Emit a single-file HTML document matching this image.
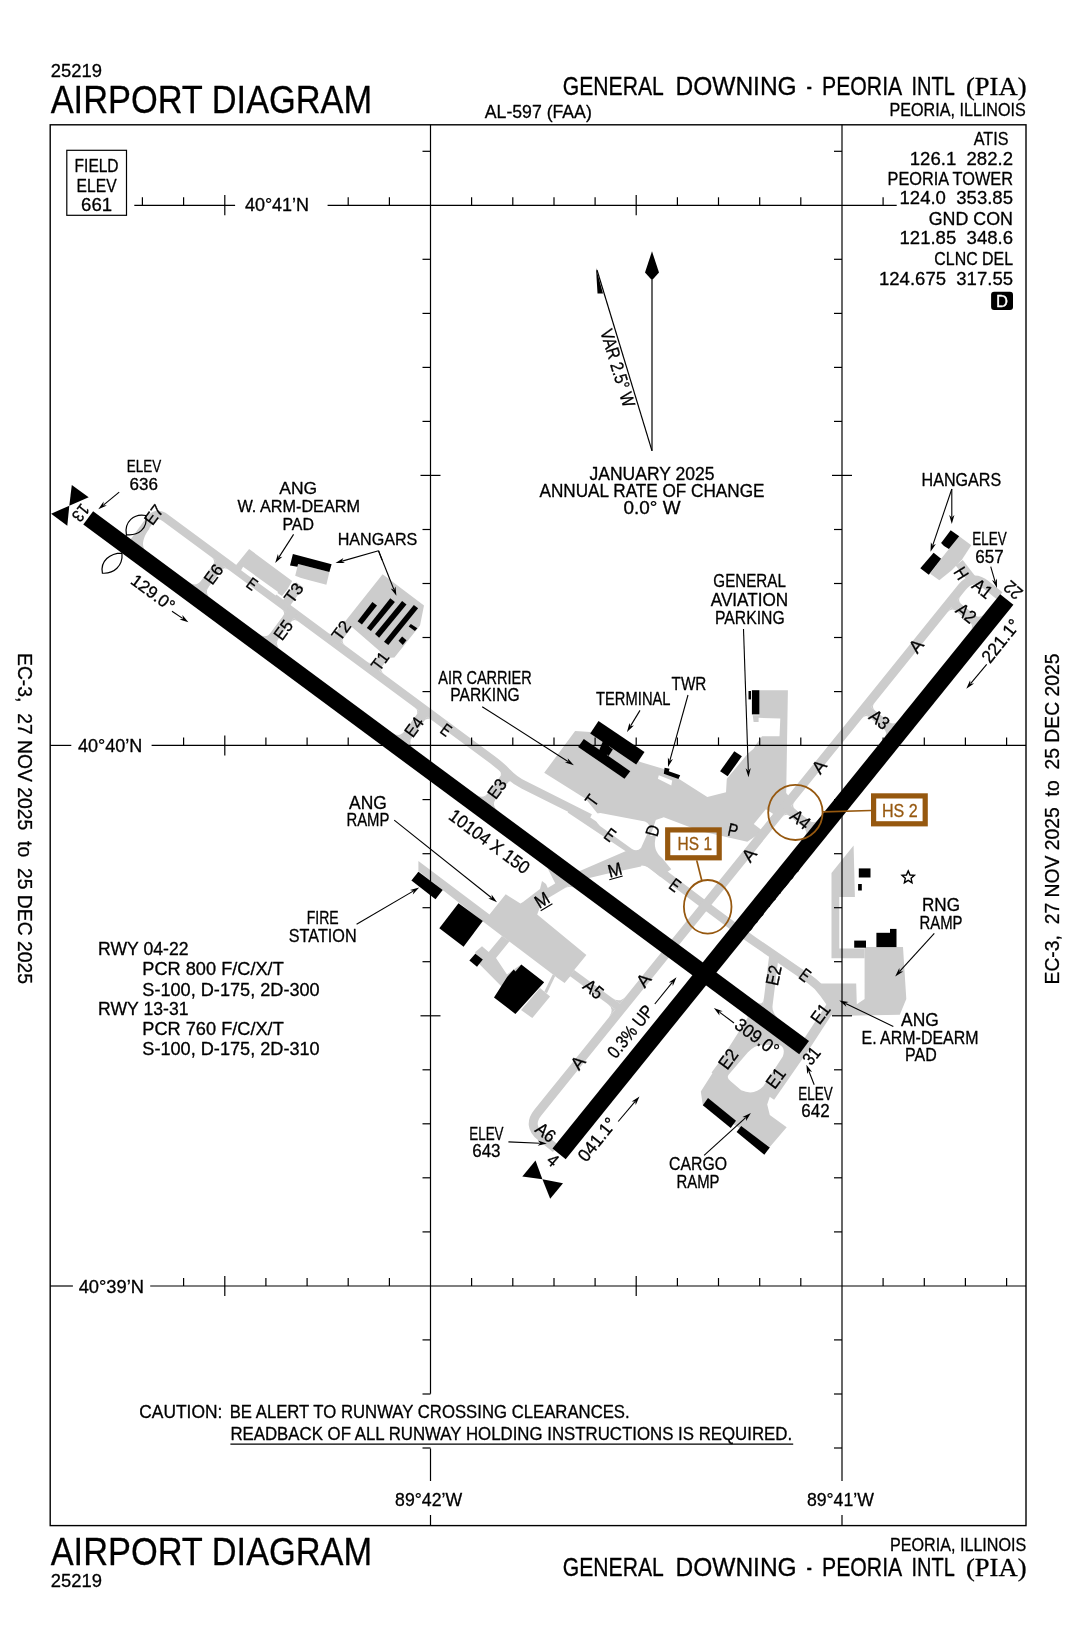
<!DOCTYPE html>
<html><head><meta charset="utf-8"><style>
html,body{margin:0;padding:0;background:#fff;width:1076px;height:1650px;overflow:hidden}
svg{display:block;will-change:transform}
text{font-family:"Liberation Sans",sans-serif;stroke-width:0.3px;stroke-linejoin:round}
</style></head><body>
<svg width="1076" height="1650" viewBox="0 0 1076 1650">
<rect width="1076" height="1650" fill="#fff"/>
<path d="M133.2,541.2 L144.4,549.5 Q140.0,541.2 149.5,528.4 L145.0,525.1Z" fill="#cccccc"/>
<path d="M132.8,543.4 L150.0,520.1 Q156.6,511.2 165.4,517.8 L492.6,759.9 Q501.4,766.4 507.7,773.2 L507.7,773.2 Q514.0,780.0 523.8,784.9 L590.0,818.0" fill="none" stroke="#cccccc" stroke-width="8.5" stroke-linejoin="round"/>
<polyline points="222.5,560.0 195.1,597.0" fill="none" stroke="#cccccc" stroke-width="9.5" stroke-linejoin="round" stroke-linecap="butt"/>
<path d="M209.2,585.9 Q203.8,593.2 211.1,598.5 L203.8,593.2 Z" fill="#cccccc"/>
<path d="M201.6,580.3 Q196.2,587.5 189.0,582.2 L196.2,587.5 Z" fill="#cccccc"/>
<polyline points="195.1,597.0 222.5,560.0" fill="none" stroke="#cccccc" stroke-width="9.5" stroke-linejoin="round" stroke-linecap="butt"/>
<path d="M212.6,565.4 Q216.1,560.6 211.3,557.0 L216.1,560.6 Z" fill="#cccccc"/>
<path d="M220.2,571.1 Q223.8,566.2 228.6,569.8 L223.8,566.2 Z" fill="#cccccc"/>
<polyline points="292.4,611.7 265.0,648.7" fill="none" stroke="#cccccc" stroke-width="9.5" stroke-linejoin="round" stroke-linecap="butt"/>
<path d="M279.1,637.7 Q273.8,644.9 281.0,650.3 L273.8,644.9 Z" fill="#cccccc"/>
<path d="M271.5,632.0 Q266.1,639.3 258.9,633.9 L266.1,639.3 Z" fill="#cccccc"/>
<polyline points="265.0,648.7 292.4,611.7" fill="none" stroke="#cccccc" stroke-width="9.5" stroke-linejoin="round" stroke-linecap="butt"/>
<path d="M282.5,617.2 Q286.1,612.3 281.2,608.8 L286.1,612.3 Z" fill="#cccccc"/>
<path d="M290.1,622.8 Q293.7,618.0 298.5,621.6 L293.7,618.0 Z" fill="#cccccc"/>
<polyline points="425.8,710.5 398.5,747.5" fill="none" stroke="#cccccc" stroke-width="9.5" stroke-linejoin="round" stroke-linecap="butt"/>
<path d="M412.6,736.4 Q407.2,743.7 414.4,749.0 L407.2,743.7 Z" fill="#cccccc"/>
<path d="M404.9,730.8 Q399.6,738.0 392.3,732.7 L399.6,738.0 Z" fill="#cccccc"/>
<polyline points="398.5,747.5 425.8,710.5" fill="none" stroke="#cccccc" stroke-width="9.5" stroke-linejoin="round" stroke-linecap="butt"/>
<path d="M415.9,715.9 Q419.5,711.1 414.7,707.5 L419.5,711.1 Z" fill="#cccccc"/>
<path d="M423.6,721.6 Q427.1,716.7 432.0,720.3 L427.1,716.7 Z" fill="#cccccc"/>
<polyline points="509.4,772.4 482.1,809.3" fill="none" stroke="#cccccc" stroke-width="9.5" stroke-linejoin="round" stroke-linecap="butt"/>
<path d="M496.2,798.3 Q490.8,805.5 498.0,810.9 L490.8,805.5 Z" fill="#cccccc"/>
<path d="M488.5,792.6 Q483.2,799.9 475.9,794.5 L483.2,799.9 Z" fill="#cccccc"/>
<polyline points="482.1,809.3 509.4,772.4" fill="none" stroke="#cccccc" stroke-width="9.5" stroke-linejoin="round" stroke-linecap="butt"/>
<path d="M499.5,777.8 Q503.1,772.9 498.3,769.4 L503.1,772.9 Z" fill="#cccccc"/>
<path d="M507.2,783.4 Q510.7,778.6 515.6,782.2 L510.7,778.6 Z" fill="#cccccc"/>
<polygon points="235.7,565.4 249.1,549.0 292.2,581.0 287.0,590.0 282.0,596.0 270.0,588.0" fill="#cccccc"/>
<polygon points="243.1,566.8 278.1,592.1 275.6,595.6 241.1,570.3" fill="#fff"/>
<polyline points="284.4,605.8 299.8,584.9" fill="none" stroke="#cccccc" stroke-width="9" stroke-linejoin="round" stroke-linecap="butt"/>
<polygon points="298.1,563.9 329.4,572.0 326.4,584.7 309.3,580.2 301.1,578.0 295.2,575.8" fill="#cccccc"/>
<polygon points="382.6,574.3 424.0,605.5 420.0,625.4 394.4,657.6 386.0,658.0 379.0,650.5 352.5,627.5 344.3,622.4" fill="#cccccc"/>
<polyline points="348.5,623.4 334.2,642.7" fill="none" stroke="#cccccc" stroke-width="9.5" stroke-linejoin="round" stroke-linecap="butt"/>
<path d="M344.1,637.3 Q340.6,642.1 345.4,645.7 L340.6,642.1 Z" fill="#cccccc"/>
<path d="M336.5,631.6 Q332.9,636.4 328.1,632.9 L332.9,636.4 Z" fill="#cccccc"/>
<polyline points="385.9,653.5 372.8,671.2" fill="none" stroke="#cccccc" stroke-width="9.5" stroke-linejoin="round" stroke-linecap="butt"/>
<path d="M382.7,665.8 Q379.1,670.6 384.0,674.2 L379.1,670.6 Z" fill="#cccccc"/>
<path d="M375.1,660.2 Q371.5,665.0 366.7,661.4 L371.5,665.0 Z" fill="#cccccc"/>
<polygon points="544.2,772.8 575.1,731.0 590.2,731.9 640.4,762.0 663.0,768.7 707.3,797.1 720.0,793.7 726.0,792.2 726.8,778.8 747.7,753.8 753.6,748.7 756.1,744.6 762.0,736.2 779.5,736.2 780.3,718.6 758.6,717.8 758.6,722.0 753.6,722.0 752.7,715.3 759.4,715.3 759.4,690.2 787.9,690.2 786.2,793.1 792.0,800.0 775.0,823.0 747.3,841.8 700.0,831.0 663.8,817.2 647.0,823.0 597.7,813.8 585.6,798.7" fill="#cccccc"/>
<polygon points="753.8,824.1 761.2,829.7 773.3,813.9 765.9,809.3" fill="#fff"/>
<polygon points="658.8,775.3 672.2,780.4 671.3,785.4 657.9,778.7" fill="#fff"/>
<path d="M570.0,809.0 L627.7,847.5 Q636.0,853.0 644.0,859.0 L699.3,900.8 Q707.3,906.8 715.3,912.8 L737.0,929.0 Q745.0,935.0 753.2,940.7 L809.8,979.6 Q818.0,985.3 823.8,993.5 L832.0,1005.0" fill="none" stroke="#cccccc" stroke-width="8.5" stroke-linejoin="round"/>
<polyline points="636.0,856.0 648.0,830.0 652.0,818.0" fill="none" stroke="#cccccc" stroke-width="8.5" stroke-linejoin="round" stroke-linecap="butt"/>
<polygon points="626.0,851.0 646.0,856.0 641.0,866.4 606.0,874.0 581.0,880.0 578.0,871.8" fill="#cccccc"/>
<path d="M630.4,849.1 Q640,852 642,846 L649,835.8 L656,836 Q652,850 662,858 L671.3,869.2 L660.1,876.7 L650,868 Q642,864 636,866 L621,866 Z" fill="#cccccc"/>
<polyline points="581.0,874.0 560.0,884.0 546.4,856.9" fill="none" stroke="#cccccc" stroke-width="8" stroke-linejoin="round" stroke-linecap="butt"/>
<path d="M595.2,815.5 Q598,812 603,813.5 L645,821.5 Q651,824 649,830 L641,848 Q637,852 632,849 L600,826 Q594,820 595.2,815.5Z" fill="#fff"/>
<polygon points="418.4,860.9 489.5,914.4 505.7,894.3 520.4,903.5 523.0,902.0 540.0,889.0 542.0,881.0 546.0,884.0 550.0,893.0 540.0,907.0 537.2,914.4 586.4,955.1 574.6,969.6 570.7,975.8 564.6,983.0 557.4,978.0 554.0,975.2 520.0,949.6 502.0,936.1 483.6,921.9 418.4,871.0" fill="#cccccc"/>
<polyline points="528.0,905.0 574.0,877.4" fill="none" stroke="#cccccc" stroke-width="9" stroke-linejoin="round" stroke-linecap="butt"/>
<path d="M556.4,882.7 Q562.5,879.1 556.8,874.9 L562.5,879.1 Z" fill="#cccccc"/>
<path d="M564.3,888.5 Q570.3,884.9 575.9,889.0 L570.3,884.9 Z" fill="#cccccc"/>
<polygon points="475.3,952.0 482.0,946.2 488.7,952.0 502.0,936.1 509.6,941.2 496.0,958.0 507.0,974.6 513.7,969.6 521.3,964.6 521.0,972.0 505.0,990.0 475.3,960.0" fill="#cccccc"/>
<polygon points="540.0,988.0 550.1,996.4 532.3,1018.1 521.0,1010.0" fill="#cccccc"/>
<polyline points="545.6,992.5 554.0,975.2" fill="none" stroke="#cccccc" stroke-width="3" stroke-linejoin="round" stroke-linecap="butt"/>
<polyline points="572.0,973.0 621.2,1009.3" fill="none" stroke="#cccccc" stroke-width="7.5" stroke-linejoin="round" stroke-linecap="butt"/>
<path d="M611.9,997.8 Q619.9,1003.7 626.2,995.9 L619.9,1003.7 Z" fill="#cccccc"/>
<path d="M607.2,1003.6 Q615.2,1009.6 608.9,1017.3 L615.2,1009.6 Z" fill="#cccccc"/>
<path d="M555.7,1148.5 L540.5,1136.3 Q527.3,1125.6 538.0,1112.4 L553.1,1093.7 Q563.7,1080.5 574.4,1067.2 L854.6,720.3 Q865.3,707.0 876.0,693.8 L923.7,634.7 Q934.4,621.5 945.1,608.2 L962.1,587.2 Q972.8,574.0 986.0,584.7 L999.6,595.7" fill="none" stroke="#cccccc" stroke-width="9" stroke-linejoin="round"/>
<polyline points="784.9,806.6 818.0,833.3" fill="none" stroke="#cccccc" stroke-width="8.5" stroke-linejoin="round" stroke-linecap="butt"/>
<path d="M808.6,820.3 Q814.0,824.7 818.4,819.2 L814.0,824.7 Z" fill="#cccccc"/>
<path d="M803.2,826.9 Q808.7,831.3 804.3,836.7 L808.7,831.3 Z" fill="#cccccc"/>
<polyline points="818.0,833.3 784.9,806.6" fill="none" stroke="#cccccc" stroke-width="8.5" stroke-linejoin="round" stroke-linecap="butt"/>
<path d="M790.4,816.5 Q785.7,812.8 782.0,817.4 L785.7,812.8 Z" fill="#cccccc"/>
<path d="M795.7,809.9 Q791.1,806.1 794.8,801.5 L791.1,806.1 Z" fill="#cccccc"/>
<polyline points="864.7,707.8 897.7,734.5" fill="none" stroke="#cccccc" stroke-width="8.5" stroke-linejoin="round" stroke-linecap="butt"/>
<path d="M888.4,721.5 Q893.8,725.9 898.2,720.4 L893.8,725.9 Z" fill="#cccccc"/>
<path d="M883.0,728.1 Q888.5,732.5 884.1,737.9 L888.5,732.5 Z" fill="#cccccc"/>
<polyline points="897.7,734.5 864.7,707.8" fill="none" stroke="#cccccc" stroke-width="8.5" stroke-linejoin="round" stroke-linecap="butt"/>
<path d="M870.2,717.7 Q865.5,714.0 861.7,718.6 L865.5,714.0 Z" fill="#cccccc"/>
<path d="M875.5,711.1 Q870.9,707.3 874.6,702.7 L870.9,707.3 Z" fill="#cccccc"/>
<polyline points="950.8,601.2 983.8,627.9" fill="none" stroke="#cccccc" stroke-width="8.5" stroke-linejoin="round" stroke-linecap="butt"/>
<path d="M974.4,614.9 Q979.9,619.3 984.3,613.8 L979.9,619.3 Z" fill="#cccccc"/>
<path d="M969.1,621.5 Q974.5,625.9 970.1,631.3 L974.5,625.9 Z" fill="#cccccc"/>
<polyline points="983.8,627.9 950.8,601.2" fill="none" stroke="#cccccc" stroke-width="8.5" stroke-linejoin="round" stroke-linecap="butt"/>
<path d="M956.3,611.1 Q951.6,607.4 947.8,612.0 L951.6,607.4 Z" fill="#cccccc"/>
<path d="M961.6,604.5 Q956.9,600.8 960.7,596.1 L956.9,600.8 Z" fill="#cccccc"/>
<polyline points="972.5,580.0 959.2,562.8" fill="none" stroke="#cccccc" stroke-width="9" stroke-linejoin="round" stroke-linecap="butt"/>
<polygon points="959.2,536.2 971.3,545.3 962.2,559.2 952.0,570.0 939.3,580.3 930.2,573.7 941.1,558.8" fill="#cccccc"/>
<polyline points="774.0,955.0 766.1,1019.5" fill="none" stroke="#cccccc" stroke-width="9.5" stroke-linejoin="round" stroke-linecap="butt"/>
<path d="M772.7,1004.4 Q771.7,1013.4 778.9,1018.7 L771.7,1013.4 Z" fill="#cccccc"/>
<path d="M764.0,997.9 Q762.9,1006.9 755.6,1001.5 L762.9,1006.9 Z" fill="#cccccc"/>
<polyline points="832.0,1005.0 804.0,1048.0 770.0,1097.0" fill="none" stroke="#cccccc" stroke-width="10" stroke-linejoin="round" stroke-linecap="butt"/>
<polyline points="715.6,1075.4 760.2,1015.2" fill="none" stroke="#cccccc" stroke-width="10" stroke-linejoin="round" stroke-linecap="butt"/>
<path d="M746.5,1025.2 Q751.3,1018.8 744.8,1014.1 L751.3,1018.8 Z" fill="#cccccc"/>
<path d="M754.5,1031.2 Q759.3,1024.8 765.7,1029.5 L759.3,1024.8 Z" fill="#cccccc"/>
<polygon points="700.8,1091.6 748.5,1016.5 808.9,1041.5 769.8,1096.8 767.2,1104.6 769.8,1115.0 786.7,1127.3 769.8,1146.9 702.8,1105.2" fill="#cccccc"/>
<path d="M728.8,1074.6 L747.7,1052.5 Q754.2,1045.4 762,1045 L778.9,1044.7 Q786,1047 782.8,1056.4 L763.3,1086.3 Q754.2,1096 741.2,1090.3 L730.7,1081.2 Q726,1078 728.8,1074.6Z" fill="#fff"/>
<polygon points="831.5,872.9 853.6,845.6 854.9,897.0 839.3,897.0 839.3,948.4 864.6,948.4 864.6,958.2 831.5,958.2" fill="#cccccc"/>
<polygon points="864.6,947.1 903.0,947.1 906.3,999.1 899.8,1014.8 832.1,1016.0 817.8,983.5 856.2,983.5 856.8,1004.3 864.6,999.1" fill="#cccccc"/>
<text x="50.7" y="76.7" font-size="18.5" text-anchor="start" textLength="51.2" lengthAdjust="spacingAndGlyphs" fill="#000" stroke="#000">25219</text>
<text x="50.7" y="112.5" font-size="38.7" text-anchor="start" textLength="321.5" lengthAdjust="spacingAndGlyphs" fill="#000" stroke="#000">AIRPORT DIAGRAM</text>
<text x="562.8" y="95.2" font-size="25.2" text-anchor="start" textLength="101.0" lengthAdjust="spacingAndGlyphs" fill="#000" stroke="#000">GENERAL</text>
<text x="675.5" y="95.2" font-size="25.2" text-anchor="start" textLength="121.2" lengthAdjust="spacingAndGlyphs" fill="#000" stroke="#000">DOWNING</text>
<text x="806.5" y="95.2" font-size="25.2" text-anchor="start" textLength="5.5" lengthAdjust="spacingAndGlyphs" fill="#000" stroke="#000">-</text>
<text x="822.0" y="95.2" font-size="25.2" text-anchor="start" textLength="80.2" lengthAdjust="spacingAndGlyphs" fill="#000" stroke="#000">PEORIA</text>
<text x="911.5" y="95.2" font-size="25.2" text-anchor="start" textLength="43.3" lengthAdjust="spacingAndGlyphs" fill="#000" stroke="#000">INTL</text>
<text x="966.0" y="95.2" font-size="25.5" text-anchor="start" style="font-family:&quot;Liberation Serif&quot;,serif" textLength="60.5" lengthAdjust="spacingAndGlyphs" fill="#000" stroke="#000">(PIA)</text>
<text x="484.8" y="118.0" font-size="17.8" text-anchor="start" textLength="107.0" lengthAdjust="spacingAndGlyphs" fill="#000" stroke="#000">AL-597 (FAA)</text>
<text x="1025.8" y="115.6" font-size="17.8" text-anchor="end" textLength="136.3" lengthAdjust="spacingAndGlyphs" fill="#000" stroke="#000">PEORIA, ILLINOIS</text>
<text x="50.7" y="1564.5" font-size="38.7" text-anchor="start" textLength="321.5" lengthAdjust="spacingAndGlyphs" fill="#000" stroke="#000">AIRPORT DIAGRAM</text>
<text x="50.7" y="1587.2" font-size="18.5" text-anchor="start" textLength="51.2" lengthAdjust="spacingAndGlyphs" fill="#000" stroke="#000">25219</text>
<text x="1026.3" y="1550.6" font-size="17.8" text-anchor="end" textLength="136.3" lengthAdjust="spacingAndGlyphs" fill="#000" stroke="#000">PEORIA, ILLINOIS</text>
<text x="562.8" y="1575.9" font-size="25.2" text-anchor="start" textLength="101.0" lengthAdjust="spacingAndGlyphs" fill="#000" stroke="#000">GENERAL</text>
<text x="675.5" y="1575.9" font-size="25.2" text-anchor="start" textLength="121.2" lengthAdjust="spacingAndGlyphs" fill="#000" stroke="#000">DOWNING</text>
<text x="806.5" y="1575.9" font-size="25.2" text-anchor="start" textLength="5.5" lengthAdjust="spacingAndGlyphs" fill="#000" stroke="#000">-</text>
<text x="822.0" y="1575.9" font-size="25.2" text-anchor="start" textLength="80.2" lengthAdjust="spacingAndGlyphs" fill="#000" stroke="#000">PEORIA</text>
<text x="911.5" y="1575.9" font-size="25.2" text-anchor="start" textLength="43.3" lengthAdjust="spacingAndGlyphs" fill="#000" stroke="#000">INTL</text>
<text x="966.0" y="1575.9" font-size="25.5" text-anchor="start" style="font-family:&quot;Liberation Serif&quot;,serif" textLength="60.5" lengthAdjust="spacingAndGlyphs" fill="#000" stroke="#000">(PIA)</text>
<text x="18.0" y="653.0" font-size="21" text-anchor="start" textLength="331.0" lengthAdjust="spacingAndGlyphs" transform="rotate(90.00 18.0 653.0)" fill="#000" stroke="#000" xml:space="preserve">EC-3,  27 NOV 2025  to  25 DEC 2025</text>
<text x="1059.0" y="984.5" font-size="21" text-anchor="start" textLength="331.0" lengthAdjust="spacingAndGlyphs" transform="rotate(-90.00 1059.0 984.5)" fill="#000" stroke="#000" xml:space="preserve">EC-3,  27 NOV 2025  to  25 DEC 2025</text>
<rect x="50.2" y="124.8" width="975.8" height="1400.8" fill="none" stroke="#000" stroke-width="1.4"/>
<line x1="134.3" y1="205.3" x2="235.1" y2="205.3" stroke="#000" stroke-width="1.2" stroke-linecap="butt"/>
<line x1="327.6" y1="205.3" x2="896.7" y2="205.3" stroke="#000" stroke-width="1.2" stroke-linecap="butt"/>
<text x="244.9" y="210.8" font-size="17.8" text-anchor="start" textLength="64.2" lengthAdjust="spacingAndGlyphs" fill="#000" stroke="#000">40°41’N</text>
<line x1="142.4" y1="197.3" x2="142.4" y2="205.3" stroke="#000" stroke-width="1.2" stroke-linecap="butt"/>
<line x1="183.6" y1="197.3" x2="183.6" y2="205.3" stroke="#000" stroke-width="1.2" stroke-linecap="butt"/>
<line x1="224.8" y1="195.0" x2="224.8" y2="215.3" stroke="#000" stroke-width="1.2" stroke-linecap="butt"/>
<line x1="348.2" y1="197.3" x2="348.2" y2="205.3" stroke="#000" stroke-width="1.2" stroke-linecap="butt"/>
<line x1="389.4" y1="197.3" x2="389.4" y2="205.3" stroke="#000" stroke-width="1.2" stroke-linecap="butt"/>
<line x1="471.6" y1="197.3" x2="471.6" y2="205.3" stroke="#000" stroke-width="1.2" stroke-linecap="butt"/>
<line x1="512.8" y1="197.3" x2="512.8" y2="205.3" stroke="#000" stroke-width="1.2" stroke-linecap="butt"/>
<line x1="554.0" y1="197.3" x2="554.0" y2="205.3" stroke="#000" stroke-width="1.2" stroke-linecap="butt"/>
<line x1="595.1" y1="197.3" x2="595.1" y2="205.3" stroke="#000" stroke-width="1.2" stroke-linecap="butt"/>
<line x1="636.2" y1="195.0" x2="636.2" y2="215.3" stroke="#000" stroke-width="1.2" stroke-linecap="butt"/>
<line x1="677.4" y1="197.3" x2="677.4" y2="205.3" stroke="#000" stroke-width="1.2" stroke-linecap="butt"/>
<line x1="718.5" y1="197.3" x2="718.5" y2="205.3" stroke="#000" stroke-width="1.2" stroke-linecap="butt"/>
<line x1="759.7" y1="197.3" x2="759.7" y2="205.3" stroke="#000" stroke-width="1.2" stroke-linecap="butt"/>
<line x1="800.8" y1="197.3" x2="800.8" y2="205.3" stroke="#000" stroke-width="1.2" stroke-linecap="butt"/>
<line x1="883.1" y1="197.3" x2="883.1" y2="205.3" stroke="#000" stroke-width="1.2" stroke-linecap="butt"/>
<line x1="50.2" y1="745.4" x2="71.3" y2="745.4" stroke="#000" stroke-width="1.2" stroke-linecap="butt"/>
<line x1="151.6" y1="745.4" x2="1026.0" y2="745.4" stroke="#000" stroke-width="1.2" stroke-linecap="butt"/>
<text x="78.0" y="752.2" font-size="17.8" text-anchor="start" textLength="64.3" lengthAdjust="spacingAndGlyphs" fill="#000" stroke="#000">40°40’N</text>
<line x1="183.6" y1="737.4" x2="183.6" y2="745.4" stroke="#000" stroke-width="1.2" stroke-linecap="butt"/>
<line x1="224.8" y1="735.4" x2="224.8" y2="755.4" stroke="#000" stroke-width="1.2" stroke-linecap="butt"/>
<line x1="265.9" y1="737.4" x2="265.9" y2="745.4" stroke="#000" stroke-width="1.2" stroke-linecap="butt"/>
<line x1="307.1" y1="737.4" x2="307.1" y2="745.4" stroke="#000" stroke-width="1.2" stroke-linecap="butt"/>
<line x1="348.2" y1="737.4" x2="348.2" y2="745.4" stroke="#000" stroke-width="1.2" stroke-linecap="butt"/>
<line x1="389.4" y1="737.4" x2="389.4" y2="745.4" stroke="#000" stroke-width="1.2" stroke-linecap="butt"/>
<line x1="471.6" y1="737.4" x2="471.6" y2="745.4" stroke="#000" stroke-width="1.2" stroke-linecap="butt"/>
<line x1="512.8" y1="737.4" x2="512.8" y2="745.4" stroke="#000" stroke-width="1.2" stroke-linecap="butt"/>
<line x1="554.0" y1="737.4" x2="554.0" y2="745.4" stroke="#000" stroke-width="1.2" stroke-linecap="butt"/>
<line x1="595.1" y1="737.4" x2="595.1" y2="745.4" stroke="#000" stroke-width="1.2" stroke-linecap="butt"/>
<line x1="636.2" y1="737.4" x2="636.2" y2="745.4" stroke="#000" stroke-width="1.2" stroke-linecap="butt"/>
<line x1="677.4" y1="737.4" x2="677.4" y2="745.4" stroke="#000" stroke-width="1.2" stroke-linecap="butt"/>
<line x1="718.5" y1="737.4" x2="718.5" y2="745.4" stroke="#000" stroke-width="1.2" stroke-linecap="butt"/>
<line x1="759.7" y1="737.4" x2="759.7" y2="745.4" stroke="#000" stroke-width="1.2" stroke-linecap="butt"/>
<line x1="800.8" y1="737.4" x2="800.8" y2="745.4" stroke="#000" stroke-width="1.2" stroke-linecap="butt"/>
<line x1="883.1" y1="737.4" x2="883.1" y2="745.4" stroke="#000" stroke-width="1.2" stroke-linecap="butt"/>
<line x1="924.3" y1="737.4" x2="924.3" y2="745.4" stroke="#000" stroke-width="1.2" stroke-linecap="butt"/>
<line x1="965.4" y1="737.4" x2="965.4" y2="745.4" stroke="#000" stroke-width="1.2" stroke-linecap="butt"/>
<line x1="1006.6" y1="737.4" x2="1006.6" y2="745.4" stroke="#000" stroke-width="1.2" stroke-linecap="butt"/>
<line x1="50.2" y1="1286.0" x2="72.9" y2="1286.0" stroke="#000" stroke-width="1.2" stroke-linecap="butt"/>
<line x1="150.2" y1="1286.0" x2="1026.0" y2="1286.0" stroke="#000" stroke-width="1.2" stroke-linecap="butt"/>
<text x="78.7" y="1292.8" font-size="17.8" text-anchor="start" textLength="65.3" lengthAdjust="spacingAndGlyphs" fill="#000" stroke="#000">40°39’N</text>
<line x1="183.6" y1="1278.0" x2="183.6" y2="1286.0" stroke="#000" stroke-width="1.2" stroke-linecap="butt"/>
<line x1="224.8" y1="1276.0" x2="224.8" y2="1296.0" stroke="#000" stroke-width="1.2" stroke-linecap="butt"/>
<line x1="265.9" y1="1278.0" x2="265.9" y2="1286.0" stroke="#000" stroke-width="1.2" stroke-linecap="butt"/>
<line x1="307.1" y1="1278.0" x2="307.1" y2="1286.0" stroke="#000" stroke-width="1.2" stroke-linecap="butt"/>
<line x1="348.2" y1="1278.0" x2="348.2" y2="1286.0" stroke="#000" stroke-width="1.2" stroke-linecap="butt"/>
<line x1="389.4" y1="1278.0" x2="389.4" y2="1286.0" stroke="#000" stroke-width="1.2" stroke-linecap="butt"/>
<line x1="471.6" y1="1278.0" x2="471.6" y2="1286.0" stroke="#000" stroke-width="1.2" stroke-linecap="butt"/>
<line x1="512.8" y1="1278.0" x2="512.8" y2="1286.0" stroke="#000" stroke-width="1.2" stroke-linecap="butt"/>
<line x1="554.0" y1="1278.0" x2="554.0" y2="1286.0" stroke="#000" stroke-width="1.2" stroke-linecap="butt"/>
<line x1="595.1" y1="1278.0" x2="595.1" y2="1286.0" stroke="#000" stroke-width="1.2" stroke-linecap="butt"/>
<line x1="636.2" y1="1276.0" x2="636.2" y2="1296.0" stroke="#000" stroke-width="1.2" stroke-linecap="butt"/>
<line x1="677.4" y1="1278.0" x2="677.4" y2="1286.0" stroke="#000" stroke-width="1.2" stroke-linecap="butt"/>
<line x1="718.5" y1="1278.0" x2="718.5" y2="1286.0" stroke="#000" stroke-width="1.2" stroke-linecap="butt"/>
<line x1="759.7" y1="1278.0" x2="759.7" y2="1286.0" stroke="#000" stroke-width="1.2" stroke-linecap="butt"/>
<line x1="800.8" y1="1278.0" x2="800.8" y2="1286.0" stroke="#000" stroke-width="1.2" stroke-linecap="butt"/>
<line x1="883.1" y1="1278.0" x2="883.1" y2="1286.0" stroke="#000" stroke-width="1.2" stroke-linecap="butt"/>
<line x1="924.3" y1="1278.0" x2="924.3" y2="1286.0" stroke="#000" stroke-width="1.2" stroke-linecap="butt"/>
<line x1="965.4" y1="1278.0" x2="965.4" y2="1286.0" stroke="#000" stroke-width="1.2" stroke-linecap="butt"/>
<line x1="1006.6" y1="1278.0" x2="1006.6" y2="1286.0" stroke="#000" stroke-width="1.2" stroke-linecap="butt"/>
<line x1="430.5" y1="124.8" x2="430.5" y2="1393.7" stroke="#000" stroke-width="1.2" stroke-linecap="butt"/>
<line x1="430.5" y1="1448.5" x2="430.5" y2="1481.0" stroke="#000" stroke-width="1.2" stroke-linecap="butt"/>
<line x1="430.5" y1="1515.0" x2="430.5" y2="1526.0" stroke="#000" stroke-width="1.2" stroke-linecap="butt"/>
<line x1="842.0" y1="124.8" x2="842.0" y2="1481.0" stroke="#000" stroke-width="1.2" stroke-linecap="butt"/>
<line x1="842.0" y1="1515.0" x2="842.0" y2="1526.0" stroke="#000" stroke-width="1.2" stroke-linecap="butt"/>
<text x="428.6" y="1506.4" font-size="17.8" text-anchor="middle" textLength="67.0" lengthAdjust="spacingAndGlyphs" fill="#000" stroke="#000">89°42’W</text>
<text x="840.4" y="1506.4" font-size="17.8" text-anchor="middle" textLength="67.0" lengthAdjust="spacingAndGlyphs" fill="#000" stroke="#000">89°41’W</text>
<line x1="422.5" y1="151.3" x2="430.5" y2="151.3" stroke="#000" stroke-width="1.2" stroke-linecap="butt"/>
<line x1="422.5" y1="259.3" x2="430.5" y2="259.3" stroke="#000" stroke-width="1.2" stroke-linecap="butt"/>
<line x1="422.5" y1="313.4" x2="430.5" y2="313.4" stroke="#000" stroke-width="1.2" stroke-linecap="butt"/>
<line x1="422.5" y1="367.4" x2="430.5" y2="367.4" stroke="#000" stroke-width="1.2" stroke-linecap="butt"/>
<line x1="422.5" y1="421.4" x2="430.5" y2="421.4" stroke="#000" stroke-width="1.2" stroke-linecap="butt"/>
<line x1="420.5" y1="475.4" x2="440.5" y2="475.4" stroke="#000" stroke-width="1.2" stroke-linecap="butt"/>
<line x1="422.5" y1="529.5" x2="430.5" y2="529.5" stroke="#000" stroke-width="1.2" stroke-linecap="butt"/>
<line x1="422.5" y1="583.5" x2="430.5" y2="583.5" stroke="#000" stroke-width="1.2" stroke-linecap="butt"/>
<line x1="422.5" y1="637.5" x2="430.5" y2="637.5" stroke="#000" stroke-width="1.2" stroke-linecap="butt"/>
<line x1="422.5" y1="691.6" x2="430.5" y2="691.6" stroke="#000" stroke-width="1.2" stroke-linecap="butt"/>
<line x1="422.5" y1="799.6" x2="430.5" y2="799.6" stroke="#000" stroke-width="1.2" stroke-linecap="butt"/>
<line x1="422.5" y1="853.7" x2="430.5" y2="853.7" stroke="#000" stroke-width="1.2" stroke-linecap="butt"/>
<line x1="422.5" y1="907.7" x2="430.5" y2="907.7" stroke="#000" stroke-width="1.2" stroke-linecap="butt"/>
<line x1="422.5" y1="961.7" x2="430.5" y2="961.7" stroke="#000" stroke-width="1.2" stroke-linecap="butt"/>
<line x1="420.5" y1="1015.8" x2="440.5" y2="1015.8" stroke="#000" stroke-width="1.2" stroke-linecap="butt"/>
<line x1="422.5" y1="1069.8" x2="430.5" y2="1069.8" stroke="#000" stroke-width="1.2" stroke-linecap="butt"/>
<line x1="422.5" y1="1123.8" x2="430.5" y2="1123.8" stroke="#000" stroke-width="1.2" stroke-linecap="butt"/>
<line x1="422.5" y1="1177.8" x2="430.5" y2="1177.8" stroke="#000" stroke-width="1.2" stroke-linecap="butt"/>
<line x1="422.5" y1="1231.9" x2="430.5" y2="1231.9" stroke="#000" stroke-width="1.2" stroke-linecap="butt"/>
<line x1="422.5" y1="1339.9" x2="430.5" y2="1339.9" stroke="#000" stroke-width="1.2" stroke-linecap="butt"/>
<line x1="422.5" y1="1394.0" x2="430.5" y2="1394.0" stroke="#000" stroke-width="1.2" stroke-linecap="butt"/>
<line x1="422.5" y1="1448.0" x2="430.5" y2="1448.0" stroke="#000" stroke-width="1.2" stroke-linecap="butt"/>
<line x1="834.0" y1="151.3" x2="842.0" y2="151.3" stroke="#000" stroke-width="1.2" stroke-linecap="butt"/>
<line x1="834.0" y1="259.3" x2="842.0" y2="259.3" stroke="#000" stroke-width="1.2" stroke-linecap="butt"/>
<line x1="834.0" y1="313.4" x2="842.0" y2="313.4" stroke="#000" stroke-width="1.2" stroke-linecap="butt"/>
<line x1="834.0" y1="367.4" x2="842.0" y2="367.4" stroke="#000" stroke-width="1.2" stroke-linecap="butt"/>
<line x1="834.0" y1="421.4" x2="842.0" y2="421.4" stroke="#000" stroke-width="1.2" stroke-linecap="butt"/>
<line x1="832.0" y1="475.4" x2="852.0" y2="475.4" stroke="#000" stroke-width="1.2" stroke-linecap="butt"/>
<line x1="834.0" y1="529.5" x2="842.0" y2="529.5" stroke="#000" stroke-width="1.2" stroke-linecap="butt"/>
<line x1="834.0" y1="583.5" x2="842.0" y2="583.5" stroke="#000" stroke-width="1.2" stroke-linecap="butt"/>
<line x1="834.0" y1="637.5" x2="842.0" y2="637.5" stroke="#000" stroke-width="1.2" stroke-linecap="butt"/>
<line x1="834.0" y1="691.6" x2="842.0" y2="691.6" stroke="#000" stroke-width="1.2" stroke-linecap="butt"/>
<line x1="834.0" y1="799.6" x2="842.0" y2="799.6" stroke="#000" stroke-width="1.2" stroke-linecap="butt"/>
<line x1="834.0" y1="853.7" x2="842.0" y2="853.7" stroke="#000" stroke-width="1.2" stroke-linecap="butt"/>
<line x1="834.0" y1="907.7" x2="842.0" y2="907.7" stroke="#000" stroke-width="1.2" stroke-linecap="butt"/>
<line x1="834.0" y1="961.7" x2="842.0" y2="961.7" stroke="#000" stroke-width="1.2" stroke-linecap="butt"/>
<line x1="832.0" y1="1015.8" x2="852.0" y2="1015.8" stroke="#000" stroke-width="1.2" stroke-linecap="butt"/>
<line x1="834.0" y1="1069.8" x2="842.0" y2="1069.8" stroke="#000" stroke-width="1.2" stroke-linecap="butt"/>
<line x1="834.0" y1="1123.8" x2="842.0" y2="1123.8" stroke="#000" stroke-width="1.2" stroke-linecap="butt"/>
<line x1="834.0" y1="1177.8" x2="842.0" y2="1177.8" stroke="#000" stroke-width="1.2" stroke-linecap="butt"/>
<line x1="834.0" y1="1231.9" x2="842.0" y2="1231.9" stroke="#000" stroke-width="1.2" stroke-linecap="butt"/>
<line x1="834.0" y1="1339.9" x2="842.0" y2="1339.9" stroke="#000" stroke-width="1.2" stroke-linecap="butt"/>
<line x1="834.0" y1="1394.0" x2="842.0" y2="1394.0" stroke="#000" stroke-width="1.2" stroke-linecap="butt"/>
<line x1="834.0" y1="1448.0" x2="842.0" y2="1448.0" stroke="#000" stroke-width="1.2" stroke-linecap="butt"/>
<rect x="66.8" y="150.3" width="59.7" height="65" fill="none" stroke="#000" stroke-width="1.2"/>
<text x="96.6" y="171.5" font-size="17.8" text-anchor="middle" textLength="44.0" lengthAdjust="spacingAndGlyphs" fill="#000" stroke="#000">FIELD</text>
<text x="96.6" y="192.2" font-size="17.8" text-anchor="middle" textLength="40.0" lengthAdjust="spacingAndGlyphs" fill="#000" stroke="#000">ELEV</text>
<text x="96.6" y="211.3" font-size="17.8" text-anchor="middle" textLength="31.0" lengthAdjust="spacingAndGlyphs" fill="#000" stroke="#000">661</text>
<text x="1008.5" y="144.8" font-size="18.2" text-anchor="end" textLength="34.7" lengthAdjust="spacingAndGlyphs" fill="#000" stroke="#000" xml:space="preserve">ATIS</text>
<text x="1013.0" y="164.5" font-size="18.2" text-anchor="end" textLength="103.2" lengthAdjust="spacingAndGlyphs" fill="#000" stroke="#000" xml:space="preserve">126.1  282.2</text>
<text x="1013.0" y="184.7" font-size="18.2" text-anchor="end" textLength="125.4" lengthAdjust="spacingAndGlyphs" fill="#000" stroke="#000" xml:space="preserve">PEORIA TOWER</text>
<text x="1013.0" y="204.0" font-size="18.2" text-anchor="end" textLength="113.5" lengthAdjust="spacingAndGlyphs" fill="#000" stroke="#000" xml:space="preserve">124.0  353.85</text>
<text x="1013.0" y="224.5" font-size="18.2" text-anchor="end" textLength="84.3" lengthAdjust="spacingAndGlyphs" fill="#000" stroke="#000" xml:space="preserve">GND CON</text>
<text x="1013.0" y="244.3" font-size="18.2" text-anchor="end" textLength="113.5" lengthAdjust="spacingAndGlyphs" fill="#000" stroke="#000" xml:space="preserve">121.85  348.6</text>
<text x="1013.0" y="264.8" font-size="18.2" text-anchor="end" textLength="78.7" lengthAdjust="spacingAndGlyphs" fill="#000" stroke="#000" xml:space="preserve">CLNC DEL</text>
<text x="1013.0" y="284.6" font-size="18.2" text-anchor="end" textLength="134.0" lengthAdjust="spacingAndGlyphs" fill="#000" stroke="#000" xml:space="preserve">124.675  317.55</text>
<rect x="991.1" y="291.7" width="21.9" height="18.2" rx="3" fill="#000"/>
<text x="1002.0" y="306.5" font-size="17" text-anchor="middle" textLength="12.0" lengthAdjust="spacingAndGlyphs" fill="#fff" stroke="#fff">D</text>
<text x="139.3" y="1417.9" font-size="17.8" text-anchor="start" textLength="83.0" lengthAdjust="spacingAndGlyphs" fill="#000" stroke="#000">CAUTION:</text>
<text x="229.7" y="1417.9" font-size="17.8" text-anchor="start" textLength="400.0" lengthAdjust="spacingAndGlyphs" fill="#000" stroke="#000">BE ALERT TO RUNWAY CROSSING CLEARANCES.</text>
<text x="230.4" y="1439.5" font-size="17.8" text-anchor="start" textLength="561.7" lengthAdjust="spacingAndGlyphs" fill="#000" stroke="#000">READBACK OF ALL RUNWAY HOLDING INSTRUCTIONS IS REQUIRED.</text>
<line x1="230.4" y1="1444.2" x2="793.2" y2="1444.2" stroke="#000" stroke-width="1.3" stroke-linecap="butt"/>
<polygon points="292.9,553.9 331.6,564.3 329.4,572.0 298.1,563.9 297.4,566.8 290.0,565.4" fill="#000"/>
<polygon points="357.6,621.3 372.4,601.9 377.0,605.5 361.9,624.4" fill="#000"/>
<polygon points="366.8,628.0 390.3,598.3 394.9,601.9 370.9,631.0" fill="#000"/>
<polygon points="375.0,634.1 402.1,600.9 406.5,604.5 379.1,637.7" fill="#000"/>
<polygon points="384.0,641.8 413.8,605.0 418.1,608.3 388.3,644.9" fill="#000"/>
<polygon points="408.7,626.4 410.8,623.9 417.4,628.3 414.9,631.0" fill="#000"/>
<polygon points="398.5,640.8 402.1,636.5 406.5,640.2 402.8,644.9" fill="#000"/>
<polygon points="950.7,530.2 959.2,536.2 948.9,548.9 944.0,546.0 941.1,542.9" fill="#000"/>
<polygon points="933.6,552.8 941.1,558.8 928.8,574.7 920.3,568.3" fill="#000"/>
<polygon points="751.9,690.2 759.4,690.2 759.4,714.4 751.9,714.4" fill="#000"/>
<polygon points="748.5,691.0 751.0,691.0 751.0,699.4 748.5,699.4" fill="#000"/>
<polygon points="720.1,771.3 734.3,751.2 741.9,756.3 727.6,776.3" fill="#000"/>
<polygon points="702.8,1105.2 708.0,1098.1 736.0,1120.8 730.7,1128.0" fill="#000"/>
<polygon points="736.6,1131.9 741.2,1126.0 769.8,1147.5 764.3,1154.7" fill="#000"/>
<polygon points="858.8,868.4 870.5,868.4 870.5,877.5 858.8,877.5" fill="#000"/>
<polygon points="858.1,884.0 861.8,884.0 861.8,890.5 858.1,890.5" fill="#000"/>
<polygon points="854.2,940.6 866.0,940.6 866.0,947.7 854.2,947.7" fill="#000"/>
<polygon points="876.4,932.8 890.0,932.8 890.0,947.1 876.4,947.1" fill="#000"/>
<polygon points="890.0,928.9 896.5,928.9 896.5,947.1 890.0,947.1" fill="#000"/>
<polygon points="411.4,880.4 418.4,871.7 442.7,890.1 435.5,899.3" fill="#000"/>
<polygon points="439.3,928.3 458.5,903.2 482.8,921.1 463.6,946.7" fill="#000"/>
<polygon points="469.4,960.4 475.3,953.7 482.8,959.6 477.0,966.8" fill="#000"/>
<polygon points="494.0,997.5 507.1,977.1 513.7,969.6 515.5,971.5 521.3,964.6 544.2,982.2 515.4,1013.9" fill="#000"/>
<polygon points="590.2,733.5 598.5,721.0 644.5,751.9 636.2,764.5" fill="#000"/>
<polygon points="578.1,746.9 583.8,738.9 630.3,771.2 624.5,778.7" fill="#000"/>
<polygon points="602.7,750.3 606.9,744.4 612.8,749.4 608.6,756.1" fill="#000"/>
<polygon points="603.0,741.0 609.0,745.0 606.0,759.0 598.0,753.0" fill="#000"/>
<polygon points="664.6,767.8 669.6,768.7 668.8,771.2 680.2,775.3 678.5,779.0 663.8,773.7" fill="#000"/>
<line x1="88.2" y1="517.9" x2="804.1" y2="1047.7" stroke="#000" stroke-width="16.5" stroke-linecap="butt"/>
<line x1="559.1" y1="1153.8" x2="1006.8" y2="599.5" stroke="#000" stroke-width="17" stroke-linecap="butt"/>
<polygon points="69.3,505.7 51.1,513.7 67.3,525.8" fill="#000"/>
<polygon points="69.3,505.7 71.8,485.1 88.7,497.3" fill="#000"/>
<polygon points="522.3,1176.5 535.5,1160.5 542.4,1179.3" fill="#000"/>
<polygon points="542.4,1179.3 563.0,1183.2 550.2,1198.8" fill="#000"/>
<text x="80.7" y="518.8" font-size="17" text-anchor="middle" textLength="17.0" lengthAdjust="spacingAndGlyphs" transform="rotate(129.0 80.7 512.9)" fill="#000" stroke="#000">13</text>
<text x="144.0" y="472.0" font-size="17" text-anchor="middle" textLength="34.4" lengthAdjust="spacingAndGlyphs" fill="#000" stroke="#000">ELEV</text>
<text x="143.8" y="490.0" font-size="17" text-anchor="middle" textLength="28.4" lengthAdjust="spacingAndGlyphs" fill="#000" stroke="#000">636</text>
<line x1="119.2" y1="492.1" x2="103.7" y2="504.9" stroke="#000" stroke-width="1.1" stroke-linecap="butt"/>
<polygon points="98.3,509.3 103.6,501.6 103.3,505.2 106.9,505.6" fill="#000"/>
<path d="M126.4,534.7 C124,522 134,513 145.9,515.5 C148,529 138,536 126.4,534.7 Z M102.4,573.2 C100,561 110,553 122,553.1 C123,566 114,574 102.4,573.2 Z M126.4,534.7 L122,553.1" fill="none" stroke="#000" stroke-width="1.2"/>
<text x="153.7" y="520.5" font-size="17" text-anchor="middle" textLength="20.0" lengthAdjust="spacingAndGlyphs" transform="rotate(-53.5 153.7 514.6)" fill="#000" stroke="#000">E7</text>
<text x="213.4" y="580.2" font-size="17" text-anchor="middle" textLength="20.0" lengthAdjust="spacingAndGlyphs" transform="rotate(-53.5 213.4 574.3)" fill="#000" stroke="#000">E6</text>
<text x="252.0" y="589.9" font-size="17" text-anchor="middle" textLength="9.0" lengthAdjust="spacingAndGlyphs" transform="rotate(36.5 252.0 584.0)" fill="#000" stroke="#000">E</text>
<text x="293.7" y="598.8" font-size="17" text-anchor="middle" textLength="20.0" lengthAdjust="spacingAndGlyphs" transform="rotate(-53.5 293.7 592.9)" fill="#000" stroke="#000">T3</text>
<text x="283.3" y="635.9" font-size="17" text-anchor="middle" textLength="20.0" lengthAdjust="spacingAndGlyphs" transform="rotate(-53.5 283.3 630.0)" fill="#000" stroke="#000">E5</text>
<text x="341.2" y="636.4" font-size="17" text-anchor="middle" textLength="20.0" lengthAdjust="spacingAndGlyphs" transform="rotate(-53.5 341.2 630.5)" fill="#000" stroke="#000">T2</text>
<text x="380.1" y="667.1" font-size="17" text-anchor="middle" textLength="18.0" lengthAdjust="spacingAndGlyphs" transform="rotate(-53.5 380.1 661.2)" fill="#000" stroke="#000">T1</text>
<text x="414.0" y="732.9" font-size="17" text-anchor="middle" textLength="20.0" lengthAdjust="spacingAndGlyphs" transform="rotate(-53.5 414.0 727.0)" fill="#000" stroke="#000">E4</text>
<text x="446.0" y="735.9" font-size="17" text-anchor="middle" textLength="9.0" lengthAdjust="spacingAndGlyphs" transform="rotate(36.5 446.0 730.0)" fill="#000" stroke="#000">E</text>
<text x="496.9" y="794.6" font-size="17" text-anchor="middle" textLength="20.0" lengthAdjust="spacingAndGlyphs" transform="rotate(-53.5 496.9 788.7)" fill="#000" stroke="#000">E3</text>
<text x="153.0" y="598.7" font-size="17" text-anchor="middle" textLength="50.0" lengthAdjust="spacingAndGlyphs" transform="rotate(36.5 153.0 592.8)" fill="#000" stroke="#000">129.0°</text>
<line x1="172.0" y1="611.2" x2="182.6" y2="618.4" stroke="#000" stroke-width="1.1" stroke-linecap="butt"/>
<polygon points="188.4,622.3 179.5,619.4 183.0,618.7 182.4,615.1" fill="#000"/>
<text x="298.2" y="493.5" font-size="17" text-anchor="middle" textLength="37.8" lengthAdjust="spacingAndGlyphs" fill="#000" stroke="#000">ANG</text>
<text x="298.7" y="511.9" font-size="17" text-anchor="middle" textLength="122.6" lengthAdjust="spacingAndGlyphs" fill="#000" stroke="#000">W. ARM-DEARM</text>
<text x="298.2" y="529.7" font-size="17" text-anchor="middle" textLength="31.6" lengthAdjust="spacingAndGlyphs" fill="#000" stroke="#000">PAD</text>
<line x1="293.6" y1="534.4" x2="279.0" y2="557.1" stroke="#000" stroke-width="1.1" stroke-linecap="butt"/>
<polygon points="275.2,563.0 277.9,554.0 278.7,557.5 282.3,556.8" fill="#000"/>
<text x="377.5" y="545.2" font-size="17" text-anchor="middle" textLength="79.7" lengthAdjust="spacingAndGlyphs" fill="#000" stroke="#000">HANGARS</text>
<line x1="378.5" y1="550.8" x2="382.1" y2="560.0" stroke="#000" stroke-width="1.1" stroke-linecap="butt"/>
<line x1="378.5" y1="550.8" x2="342.2" y2="561.1" stroke="#000" stroke-width="1.1" stroke-linecap="butt"/>
<polygon points="335.5,563.0 343.4,558.0 341.8,561.2 344.9,563.0" fill="#000"/>
<line x1="378.5" y1="550.8" x2="393.8" y2="589.3" stroke="#000" stroke-width="1.1" stroke-linecap="butt"/>
<polygon points="396.4,595.8 390.7,588.4 394.0,589.8 395.5,586.5" fill="#000"/>
<ellipse cx="707.7" cy="906.8" rx="23.8" ry="26.8" fill="none" stroke="#96580f" stroke-width="1.8"/>
<ellipse cx="795.4" cy="812.4" rx="27.2" ry="27.6" fill="none" stroke="#96580f" stroke-width="1.8"/>
<line x1="696.7" y1="860.4" x2="701.7" y2="880.2" stroke="#96580f" stroke-width="1.7" stroke-linecap="butt"/>
<line x1="823.0" y1="811.9" x2="871.0" y2="810.5" stroke="#96580f" stroke-width="1.7" stroke-linecap="butt"/>
<rect x="667.7" y="829.9" width="51.5" height="27.9" fill="none" stroke="#96580f" stroke-width="5.2"/>
<rect x="873.6" y="795.9" width="51.6" height="27.9" fill="none" stroke="#96580f" stroke-width="5.2"/>
<text x="694.8" y="850.1" font-size="17.5" text-anchor="middle" textLength="34.4" lengthAdjust="spacingAndGlyphs" fill="#96580f" stroke="#96580f">HS 1</text>
<text x="899.8" y="816.8" font-size="17.5" text-anchor="middle" textLength="35.7" lengthAdjust="spacingAndGlyphs" fill="#96580f" stroke="#96580f">HS 2</text>
<text x="485.0" y="683.9" font-size="18.2" text-anchor="middle" textLength="93.6" lengthAdjust="spacingAndGlyphs" fill="#000" stroke="#000">AIR CARRIER</text>
<text x="485.0" y="701.0" font-size="18.2" text-anchor="middle" textLength="69.3" lengthAdjust="spacingAndGlyphs" fill="#000" stroke="#000">PARKING</text>
<line x1="482.2" y1="706.7" x2="568.0" y2="761.5" stroke="#000" stroke-width="1.1" stroke-linecap="butt"/>
<polygon points="573.9,765.3 564.9,762.6 568.4,761.8 567.7,758.3" fill="#000"/>
<text x="633.3" y="705.1" font-size="18.2" text-anchor="middle" textLength="74.5" lengthAdjust="spacingAndGlyphs" fill="#000" stroke="#000">TERMINAL</text>
<line x1="640.0" y1="710.4" x2="630.6" y2="725.9" stroke="#000" stroke-width="1.1" stroke-linecap="butt"/>
<polygon points="627.0,731.9 629.4,722.9 630.4,726.3 633.9,725.5" fill="#000"/>
<text x="689.0" y="690.4" font-size="18.2" text-anchor="middle" textLength="34.8" lengthAdjust="spacingAndGlyphs" fill="#000" stroke="#000">TWR</text>
<line x1="688.0" y1="695.0" x2="669.9" y2="760.3" stroke="#000" stroke-width="1.1" stroke-linecap="butt"/>
<polygon points="668.0,767.0 667.9,757.6 669.7,760.7 672.9,759.0" fill="#000"/>
<text x="749.6" y="587.3" font-size="18.2" text-anchor="middle" textLength="72.5" lengthAdjust="spacingAndGlyphs" fill="#000" stroke="#000">GENERAL</text>
<text x="749.5" y="605.5" font-size="18.2" text-anchor="middle" textLength="77.5" lengthAdjust="spacingAndGlyphs" fill="#000" stroke="#000">AVIATION</text>
<text x="749.8" y="623.6" font-size="18.2" text-anchor="middle" textLength="69.7" lengthAdjust="spacingAndGlyphs" fill="#000" stroke="#000">PARKING</text>
<line x1="743.5" y1="629.0" x2="748.3" y2="770.2" stroke="#000" stroke-width="1.1" stroke-linecap="butt"/>
<polygon points="748.5,777.2 745.6,768.3 748.3,770.7 750.8,768.1" fill="#000"/>
<text x="591.9" y="806.7" font-size="18.2" text-anchor="middle" textLength="9.0" lengthAdjust="spacingAndGlyphs" transform="rotate(-53.5 591.9 800.4)" fill="#000" stroke="#000">T</text>
<text x="610.0" y="841.1" font-size="18.2" text-anchor="middle" textLength="9.0" lengthAdjust="spacingAndGlyphs" transform="rotate(36.5 610.0 834.8)" fill="#000" stroke="#000">E</text>
<text x="652.6" y="836.8" font-size="18.2" text-anchor="middle" textLength="11.0" lengthAdjust="spacingAndGlyphs" transform="rotate(-75.0 652.6 830.5)" fill="#000" stroke="#000">D</text>
<text x="732.9" y="836.4" font-size="18.2" text-anchor="middle" textLength="10.0" lengthAdjust="spacingAndGlyphs" transform="rotate(12.0 732.9 830.1)" fill="#000" stroke="#000">P</text>
<text x="749.1" y="861.1" font-size="18.2" text-anchor="middle" textLength="12.0" lengthAdjust="spacingAndGlyphs" transform="rotate(-51.1 749.1 854.8)" fill="#000" stroke="#000">A</text>
<text x="675.0" y="891.3" font-size="18.2" text-anchor="middle" textLength="9.0" lengthAdjust="spacingAndGlyphs" transform="rotate(36.5 675.0 885.0)" fill="#000" stroke="#000">E</text>
<text x="614.9" y="876.2" font-size="18.2" text-anchor="middle" textLength="14.0" lengthAdjust="spacingAndGlyphs" transform="rotate(-15.0 614.9 869.9)" fill="#000" stroke="#000">M</text>
<line x1="609.3" y1="879.7" x2="622.7" y2="876.0" stroke="#000" stroke-width="1.1" stroke-linecap="butt"/>
<text x="542.1" y="906.2" font-size="18.2" text-anchor="middle" textLength="14.0" lengthAdjust="spacingAndGlyphs" transform="rotate(-31.0 542.1 899.9)" fill="#000" stroke="#000">M</text>
<line x1="540.7" y1="910.8" x2="552.4" y2="903.8" stroke="#000" stroke-width="1.1" stroke-linecap="butt"/>
<text x="489.5" y="847.8" font-size="18.2" text-anchor="middle" textLength="95.0" lengthAdjust="spacingAndGlyphs" transform="rotate(36.5 489.5 841.5)" fill="#000" stroke="#000">10104 X 150</text>
<text x="770.0" y="902.3" font-size="18.2" text-anchor="middle" textLength="84.0" lengthAdjust="spacingAndGlyphs" transform="rotate(-51.1 770.0 896.0)" fill="#000" stroke="#000">8004 X 150</text>
<text x="593.5" y="995.3" font-size="18.2" text-anchor="middle" textLength="20.0" lengthAdjust="spacingAndGlyphs" transform="rotate(38.7 593.5 989.0)" fill="#000" stroke="#000">A5</text>
<text x="643.6" y="986.4" font-size="18.2" text-anchor="middle" textLength="12.0" lengthAdjust="spacingAndGlyphs" transform="rotate(-51.1 643.6 980.1)" fill="#000" stroke="#000">A</text>
<text x="577.8" y="1068.9" font-size="18.2" text-anchor="middle" textLength="12.0" lengthAdjust="spacingAndGlyphs" transform="rotate(-51.1 577.8 1062.6)" fill="#000" stroke="#000">A</text>
<text x="545.7" y="1138.7" font-size="18.2" text-anchor="middle" textLength="20.0" lengthAdjust="spacingAndGlyphs" transform="rotate(38.7 545.7 1132.4)" fill="#000" stroke="#000">A6</text>
<text x="553.0" y="1166.6" font-size="18.2" text-anchor="middle" textLength="9.0" lengthAdjust="spacingAndGlyphs" transform="rotate(41.0 553.0 1160.3)" fill="#000" stroke="#000">4</text>
<text x="630.3" y="1037.7" font-size="18.2" text-anchor="middle" textLength="62.0" lengthAdjust="spacingAndGlyphs" transform="rotate(-51.1 630.3 1031.4)" fill="#000" stroke="#000">0.3% UP</text>
<line x1="654.8" y1="1004.0" x2="672.1" y2="982.7" stroke="#000" stroke-width="1.1" stroke-linecap="butt"/>
<polygon points="676.5,977.3 672.8,985.9 672.4,982.3 668.8,982.6" fill="#000"/>
<text x="597.0" y="1145.8" font-size="18.2" text-anchor="middle" textLength="50.0" lengthAdjust="spacingAndGlyphs" transform="rotate(-51.1 597.0 1139.5)" fill="#000" stroke="#000">041.1°</text>
<line x1="618.2" y1="1121.5" x2="635.0" y2="1101.7" stroke="#000" stroke-width="1.1" stroke-linecap="butt"/>
<polygon points="639.5,1096.4 635.7,1104.9 635.3,1101.4 631.7,1101.6" fill="#000"/>
<text x="486.4" y="1139.8" font-size="18.2" text-anchor="middle" textLength="34.4" lengthAdjust="spacingAndGlyphs" fill="#000" stroke="#000">ELEV</text>
<text x="486.4" y="1157.4" font-size="18.2" text-anchor="middle" textLength="28.4" lengthAdjust="spacingAndGlyphs" fill="#000" stroke="#000">643</text>
<line x1="508.4" y1="1141.9" x2="539.8" y2="1143.3" stroke="#000" stroke-width="1.1" stroke-linecap="butt"/>
<polygon points="546.8,1143.6 537.7,1145.8 540.3,1143.3 537.9,1140.6" fill="#000"/>
<text x="800.5" y="825.7" font-size="18.2" text-anchor="middle" textLength="20.0" lengthAdjust="spacingAndGlyphs" transform="rotate(38.9 800.5 819.4)" fill="#000" stroke="#000">A4</text>
<text x="819.1" y="772.8" font-size="18.2" text-anchor="middle" textLength="12.0" lengthAdjust="spacingAndGlyphs" transform="rotate(-51.1 819.1 766.5)" fill="#000" stroke="#000">A</text>
<text x="879.4" y="725.8" font-size="18.2" text-anchor="middle" textLength="20.0" lengthAdjust="spacingAndGlyphs" transform="rotate(38.7 879.4 719.5)" fill="#000" stroke="#000">A3</text>
<text x="916.2" y="652.2" font-size="18.2" text-anchor="middle" textLength="12.0" lengthAdjust="spacingAndGlyphs" transform="rotate(-51.1 916.2 645.9)" fill="#000" stroke="#000">A</text>
<text x="966.3" y="619.5" font-size="18.2" text-anchor="middle" textLength="20.0" lengthAdjust="spacingAndGlyphs" transform="rotate(38.7 966.3 613.2)" fill="#000" stroke="#000">A2</text>
<text x="982.6" y="594.9" font-size="18.2" text-anchor="middle" textLength="20.0" lengthAdjust="spacingAndGlyphs" transform="rotate(38.7 982.6 588.6)" fill="#000" stroke="#000">A1</text>
<text x="961.2" y="579.6" font-size="18.2" text-anchor="middle" textLength="11.0" lengthAdjust="spacingAndGlyphs" transform="rotate(58.0 961.2 573.3)" fill="#000" stroke="#000">H</text>
<text x="1013.0" y="596.3" font-size="18.2" text-anchor="middle" textLength="18.0" lengthAdjust="spacingAndGlyphs" transform="rotate(221.0 1013.0 590.0)" fill="#000" stroke="#000">22</text>
<text x="1000.8" y="647.1" font-size="18.2" text-anchor="middle" textLength="50.0" lengthAdjust="spacingAndGlyphs" transform="rotate(-51.1 1000.8 640.8)" fill="#000" stroke="#000">221.1°</text>
<line x1="986.7" y1="664.3" x2="970.8" y2="683.4" stroke="#000" stroke-width="1.1" stroke-linecap="butt"/>
<polygon points="966.3,688.8 970.1,680.2 970.5,683.8 974.1,683.5" fill="#000"/>
<text x="961.4" y="486.4" font-size="18.2" text-anchor="middle" textLength="79.7" lengthAdjust="spacingAndGlyphs" fill="#000" stroke="#000">HANGARS</text>
<line x1="951.8" y1="489.0" x2="951.8" y2="517.0" stroke="#000" stroke-width="1.1" stroke-linecap="butt"/>
<polygon points="951.8,524.0 949.2,515.0 951.8,517.5 954.4,515.0" fill="#000"/>
<line x1="951.8" y1="489.0" x2="932.8" y2="545.1" stroke="#000" stroke-width="1.1" stroke-linecap="butt"/>
<polygon points="930.5,551.7 930.9,542.3 932.6,545.5 935.9,544.0" fill="#000"/>
<text x="989.5" y="544.9" font-size="18.2" text-anchor="middle" textLength="34.4" lengthAdjust="spacingAndGlyphs" fill="#000" stroke="#000">ELEV</text>
<text x="989.5" y="563.0" font-size="18.2" text-anchor="middle" textLength="28.4" lengthAdjust="spacingAndGlyphs" fill="#000" stroke="#000">657</text>
<line x1="990.7" y1="566.7" x2="995.0" y2="581.3" stroke="#000" stroke-width="1.1" stroke-linecap="butt"/>
<polygon points="997.0,588.0 992.0,580.1 995.2,581.8 996.9,578.6" fill="#000"/>
<text x="773.6" y="981.7" font-size="18.2" text-anchor="middle" textLength="20.0" lengthAdjust="spacingAndGlyphs" transform="rotate(-78.0 773.6 975.4)" fill="#000" stroke="#000">E2</text>
<text x="805.0" y="981.3" font-size="18.2" text-anchor="middle" textLength="9.0" lengthAdjust="spacingAndGlyphs" transform="rotate(36.5 805.0 975.0)" fill="#000" stroke="#000">E</text>
<text x="820.5" y="1020.1" font-size="18.2" text-anchor="middle" textLength="20.0" lengthAdjust="spacingAndGlyphs" transform="rotate(-53.5 820.5 1013.8)" fill="#000" stroke="#000">E1</text>
<text x="811.4" y="1062.1" font-size="18.2" text-anchor="middle" textLength="17.0" lengthAdjust="spacingAndGlyphs" transform="rotate(-51.0 811.4 1055.8)" fill="#000" stroke="#000">31</text>
<text x="757.0" y="1043.3" font-size="18.2" text-anchor="middle" textLength="50.0" lengthAdjust="spacingAndGlyphs" transform="rotate(36.5 757.0 1037.0)" fill="#000" stroke="#000">309.0°</text>
<line x1="734.0" y1="1023.0" x2="719.5" y2="1012.1" stroke="#000" stroke-width="1.1" stroke-linecap="butt"/>
<polygon points="713.9,1007.9 722.7,1011.2 719.1,1011.8 719.5,1015.4" fill="#000"/>
<text x="728.1" y="1065.3" font-size="18.2" text-anchor="middle" textLength="20.0" lengthAdjust="spacingAndGlyphs" transform="rotate(-53.5 728.1 1059.0)" fill="#000" stroke="#000">E2</text>
<text x="775.7" y="1084.4" font-size="18.2" text-anchor="middle" textLength="20.0" lengthAdjust="spacingAndGlyphs" transform="rotate(-53.5 775.7 1078.1)" fill="#000" stroke="#000">E1</text>
<text x="815.5" y="1099.5" font-size="18.2" text-anchor="middle" textLength="34.4" lengthAdjust="spacingAndGlyphs" fill="#000" stroke="#000">ELEV</text>
<text x="815.5" y="1117.0" font-size="18.2" text-anchor="middle" textLength="28.4" lengthAdjust="spacingAndGlyphs" fill="#000" stroke="#000">642</text>
<line x1="814.2" y1="1084.8" x2="808.9" y2="1071.2" stroke="#000" stroke-width="1.1" stroke-linecap="butt"/>
<polygon points="806.4,1064.7 812.1,1072.1 808.8,1070.8 807.2,1074.0" fill="#000"/>
<text x="698.0" y="1169.6" font-size="18.2" text-anchor="middle" textLength="58.0" lengthAdjust="spacingAndGlyphs" fill="#000" stroke="#000">CARGO</text>
<text x="698.0" y="1187.8" font-size="18.2" text-anchor="middle" textLength="43.0" lengthAdjust="spacingAndGlyphs" fill="#000" stroke="#000">RAMP</text>
<line x1="704.1" y1="1155.3" x2="745.7" y2="1117.7" stroke="#000" stroke-width="1.1" stroke-linecap="butt"/>
<polygon points="750.9,1113.0 746.0,1121.0 746.1,1117.4 742.5,1117.1" fill="#000"/>
<text x="941.0" y="910.7" font-size="18.2" text-anchor="middle" textLength="38.0" lengthAdjust="spacingAndGlyphs" fill="#000" stroke="#000">RNG</text>
<text x="941.0" y="928.9" font-size="18.2" text-anchor="middle" textLength="43.0" lengthAdjust="spacingAndGlyphs" fill="#000" stroke="#000">RAMP</text>
<line x1="934.3" y1="933.4" x2="899.9" y2="971.2" stroke="#000" stroke-width="1.1" stroke-linecap="butt"/>
<polygon points="895.2,976.4 899.3,968.0 899.6,971.6 903.2,971.5" fill="#000"/>
<text x="920.0" y="1025.8" font-size="18.2" text-anchor="middle" textLength="37.8" lengthAdjust="spacingAndGlyphs" fill="#000" stroke="#000">ANG</text>
<text x="920.0" y="1043.5" font-size="18.2" text-anchor="middle" textLength="117.0" lengthAdjust="spacingAndGlyphs" fill="#000" stroke="#000">E. ARM-DEARM</text>
<text x="920.9" y="1060.6" font-size="18.2" text-anchor="middle" textLength="31.6" lengthAdjust="spacingAndGlyphs" fill="#000" stroke="#000">PAD</text>
<line x1="893.3" y1="1026.5" x2="845.6" y2="1003.4" stroke="#000" stroke-width="1.1" stroke-linecap="butt"/>
<polygon points="839.3,1000.4 848.5,1002.0 845.2,1003.2 846.3,1006.7" fill="#000"/>
<polygon points="908.2,870.9 910.0,875.0 914.4,875.4 911.1,878.3 912.0,882.7 908.2,880.4 904.4,882.7 905.3,878.3 902.0,875.4 906.4,875.0" fill="#fff" stroke="#000" stroke-width="1.4" stroke-linejoin="miter"/>
<text x="367.9" y="808.8" font-size="18.2" text-anchor="middle" textLength="37.8" lengthAdjust="spacingAndGlyphs" fill="#000" stroke="#000">ANG</text>
<text x="367.9" y="826.4" font-size="18.2" text-anchor="middle" textLength="43.0" lengthAdjust="spacingAndGlyphs" fill="#000" stroke="#000">RAMP</text>
<line x1="394.2" y1="820.1" x2="491.5" y2="897.8" stroke="#000" stroke-width="1.1" stroke-linecap="butt"/>
<polygon points="497.0,902.2 488.3,898.6 491.9,898.1 491.6,894.6" fill="#000"/>
<text x="322.7" y="924.3" font-size="18.2" text-anchor="middle" textLength="32.0" lengthAdjust="spacingAndGlyphs" fill="#000" stroke="#000">FIRE</text>
<text x="322.7" y="941.8" font-size="18.2" text-anchor="middle" textLength="67.8" lengthAdjust="spacingAndGlyphs" fill="#000" stroke="#000">STATION</text>
<line x1="356.6" y1="924.3" x2="413.2" y2="891.1" stroke="#000" stroke-width="1.1" stroke-linecap="butt"/>
<polygon points="419.2,887.6 412.8,894.4 413.6,890.9 410.1,889.9" fill="#000"/>
<text x="98.1" y="955.3" font-size="17.8" text-anchor="start" textLength="90.4" lengthAdjust="spacingAndGlyphs" fill="#000" stroke="#000">RWY 04-22</text>
<text x="142.3" y="975.4" font-size="17.8" text-anchor="start" textLength="141.5" lengthAdjust="spacingAndGlyphs" fill="#000" stroke="#000">PCR 800 F/C/X/T</text>
<text x="142.3" y="995.5" font-size="17.8" text-anchor="start" textLength="177.4" lengthAdjust="spacingAndGlyphs" fill="#000" stroke="#000">S-100, D-175, 2D-300</text>
<text x="98.1" y="1015.1" font-size="17.8" text-anchor="start" textLength="90.4" lengthAdjust="spacingAndGlyphs" fill="#000" stroke="#000">RWY 13-31</text>
<text x="142.3" y="1035.2" font-size="17.8" text-anchor="start" textLength="141.5" lengthAdjust="spacingAndGlyphs" fill="#000" stroke="#000">PCR 760 F/C/X/T</text>
<text x="142.3" y="1055.2" font-size="17.8" text-anchor="start" textLength="177.4" lengthAdjust="spacingAndGlyphs" fill="#000" stroke="#000">S-100, D-175, 2D-310</text>
<line x1="652.0" y1="280.0" x2="652.0" y2="450.8" stroke="#000" stroke-width="1.2" stroke-linecap="butt"/>
<polygon points="652,251.3 659,272.6 652,280.2 645,272.6" fill="#000"/>
<line x1="652.0" y1="450.8" x2="597.0" y2="270.0" stroke="#000" stroke-width="1.2" stroke-linecap="butt"/>
<polygon points="596,268 597.5,293.5 603,293.5" fill="#000"/>
<text x="617.8" y="374.3" font-size="18.2" text-anchor="middle" textLength="80.0" lengthAdjust="spacingAndGlyphs" transform="rotate(73.0 617.8 368.0)" fill="#000" stroke="#000">VAR 2.5° W</text>
<text x="652.0" y="479.6" font-size="17.5" text-anchor="middle" textLength="125.0" lengthAdjust="spacingAndGlyphs" fill="#000" stroke="#000">JANUARY 2025</text>
<text x="652.0" y="496.7" font-size="17.5" text-anchor="middle" textLength="225.0" lengthAdjust="spacingAndGlyphs" fill="#000" stroke="#000">ANNUAL RATE OF CHANGE</text>
<text x="652.0" y="513.5" font-size="17.5" text-anchor="middle" textLength="57.0" lengthAdjust="spacingAndGlyphs" fill="#000" stroke="#000">0.0° W</text>
</svg></body></html>
